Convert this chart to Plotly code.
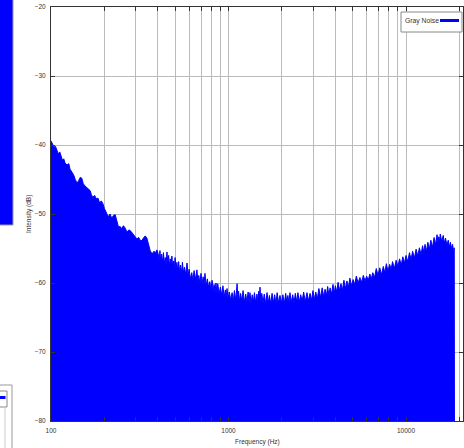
import plotly.graph_objects as go

# Gray noise spectrum: frequency (Hz) and measured intensity (dB)
freq_hz = [
    100, 102, 104, 106, 108, 110, 112, 114, 116, 118, 120, 123, 126, 128, 131, 134, 137, 140,
    143, 146, 149, 152, 155, 158, 162, 166, 169, 172, 176, 180, 184, 188, 192, 196, 200, 205,
    210, 215, 220, 225, 230, 235, 240, 245, 250, 256, 261, 268, 275, 282, 290, 298, 305, 312,
    320, 326, 333, 340, 347, 355, 362, 371, 380, 388, 395,
    403, 407, 411, 415, 420, 425, 430, 435, 440, 445, 450, 455, 460, 465, 470, 475, 480, 485,
    490, 495, 500, 506, 512, 518, 524, 530, 536, 543, 550, 557, 565, 574, 584, 592, 600, 610,
    621, 630, 640, 652, 664, 672, 680, 690, 700, 710, 720, 728, 737, 748, 760, 772, 785, 796,
    808, 819, 830, 840, 850, 860, 870, 885, 900, 915, 930, 945, 960, 970, 981, 995,
    1010, 1029, 1048, 1064, 1080, 1099, 1118, 1129, 1140, 1155, 1170, 1189, 1208, 1229, 1250,
    1270, 1290, 1305, 1321, 1340, 1360, 1380, 1400, 1423, 1446, 1463, 1480, 1492, 1505, 1522,
    1540, 1565, 1590, 1619, 1648, 1674, 1700, 1730, 1760, 1790, 1820, 1850, 1880, 1915, 1950,
    1987, 2024, 2062, 2100, 2130, 2160, 2190, 2220, 2260, 2300, 2340, 2380, 2420, 2462, 2505,
    2550, 2600, 2650, 2708, 2767, 2823, 2880, 2936, 2992, 3046, 3100, 3165, 3230, 3300, 3372,
    3436, 3500, 3560, 3620, 3677, 3735, 3808, 3880, 3940, 4000, 4072, 4144, 4222, 4300, 4385,
    4470, 4558, 4647, 4738, 4830, 4932, 5034, 5142, 5250, 5375, 5500, 5625, 5750, 5875, 6000,
    6127, 6255, 6377, 6500, 6650, 6800, 6956, 7113, 7280, 7450, 7600, 7750, 7920, 8089, 8245,
    8400, 8600, 8800, 9000, 9199, 9400, 9600, 9800, 10000, 10230, 10460, 10680, 10900, 11150,
    11400, 11650, 11900, 12150, 12400, 12600, 12800, 13040, 13280, 13540, 13800, 14100, 14400,
    14680, 14960, 15130, 15300, 15450, 15600, 15900, 16200, 16450, 16700, 17000, 17300, 17550,
    17800, 18050, 18300, 18500, 18700, 18750,
]
intensity_db = [
    -39.4, -39.9, -40.3, -40.2, -40.8, -41.3, -41.0, -41.8, -42.2, -42.0, -42.6, -42.9, -42.7,
    -43.5, -43.9, -44.3, -45.0, -45.5, -45.2, -44.7, -44.8, -45.6, -45.9, -46.1, -46.3, -46.6,
    -47.2, -47.6, -47.3, -47.8, -47.7, -48.4, -48.1, -48.5, -49.2, -49.9, -50.4, -50.0, -50.6,
    -50.2, -50.1, -51.0, -51.9, -51.8, -52.1, -51.7, -52.0, -52.6, -52.3, -52.5, -53.0, -53.3,
    -53.6, -53.4, -53.9, -53.8, -53.4, -53.2, -53.5, -54.4, -55.3, -55.8, -55.4, -55.6, -55.2,
    -55.9, -56.8, -55.3, -56.9, -55.8, -57.0, -55.6, -57.2, -56.3, -57.4, -55.5, -57.1, -56.0,
    -57.6, -56.5, -57.3, -56.1, -57.8, -56.8, -57.9, -56.3, -58.0, -57.0, -58.3, -56.9, -58.4,
    -57.4, -58.6, -57.0, -58.5, -57.7, -58.8, -57.1, -59.0, -58.0, -59.4, -58.5, -59.6, -58.2,
    -59.5, -58.1, -59.8, -58.9, -60.0, -58.6, -60.1, -59.1, -60.3, -58.6, -60.4, -59.4, -60.6,
    -59.8, -61.0, -59.6, -61.1, -60.2, -61.3, -60.0, -61.4, -60.1, -61.6, -60.6, -61.8, -60.4,
    -62.0, -61.0, -62.2, -60.8, -62.3,
    -61.3, -62.4, -61.4, -62.6, -61.1, -62.5, -60.1, -62.4, -61.2, -62.7, -61.5, -62.6, -61.1,
    -62.8, -61.6, -62.7, -61.3, -62.8, -61.4, -62.9, -61.7, -62.8, -61.4, -62.9, -61.6, -62.7,
    -61.2, -62.6, -60.6, -62.8, -61.5, -62.9, -61.6, -63.0, -61.4, -62.9, -61.8, -63.0, -61.5,
    -62.9, -61.7, -63.0, -61.4, -62.9, -61.8, -62.9, -61.7, -63.0, -61.5, -62.8, -61.8, -62.9,
    -61.4, -62.8, -61.7, -62.9, -61.5, -62.7, -61.4, -62.8, -61.7, -62.6, -61.3, -62.7, -61.4,
    -62.6, -61.5, -62.5, -61.1, -62.4, -61.3, -62.3, -60.8, -62.1, -60.7, -62.0, -60.9, -61.9,
    -60.5, -61.8, -60.7, -61.6, -60.2, -61.5, -60.4, -61.3, -59.9, -61.1, -60.1, -61.0, -59.6,
    -60.8, -59.7, -60.6, -59.3, -60.4, -59.5, -60.2, -59.0, -60.0, -59.2, -59.9, -58.9, -59.7,
    -59.0, -59.6, -58.7, -59.4, -58.5, -59.2, -57.9, -58.9, -57.8, -58.8, -57.6, -58.5, -57.2,
    -58.3, -57.3, -58.0, -56.9, -57.9, -56.7, -57.6, -56.5, -57.4, -56.2, -57.1, -56.0, -56.9,
    -55.6, -56.6, -55.4, -56.4, -55.1, -56.1, -54.9, -55.9, -54.6, -55.6, -54.4, -55.4, -54.1,
    -55.1, -53.8, -54.8, -53.4, -54.4, -53.0, -54.2, -53.3, -54.0, -52.9, -54.0, -53.1, -54.2,
    -53.5, -54.5, -53.8, -54.8, -54.1, -55.0, -54.4, -55.3, -54.9, -80.0,
]
assert len(freq_hz) == len(intensity_db)
floor_db = -80

x_tickvals = [100, 200, 300, 400, 500, 600, 700, 800, 900,
              1000, 2000, 3000, 4000, 5000, 6000, 7000, 8000, 9000,
              10000, 20000]
x_ticktext = ["100", "", "", "", "", "", "", "", "",
              "1000", "", "", "", "", "", "", "", "",
              "10000", ""]
y_tickvals = [-80, -70, -60, -50, -40, -30, -20]

series_name = "Gray Noise"
BLUE = "#0000ff"
FONT = "Liberation Sans, Arial, sans-serif"

# plot-area geometry in pixels (used only for converting decorations to paper coords)
W, H = 464, 448
L, R, T, B = 51, 1, 7, 27
PW, PH = W - L - R, H - T - B


def px(x):
    return (x - L) / PW


def py(y):
    return (H - B - y) / PH


fig = go.Figure()
fig.add_trace(go.Scatter(
    x=[freq_hz[0], freq_hz[-1]], y=[floor_db, floor_db],
    mode="lines", line=dict(width=0, color=BLUE),
    showlegend=False, hoverinfo="skip",
))
fig.add_trace(go.Scatter(
    x=freq_hz, y=intensity_db, name=series_name,
    mode="lines", line=dict(width=1, color=BLUE),
    fill="tonexty", fillcolor=BLUE, showlegend=False,
))

axis_common = dict(
    showline=True, linecolor="#333333", linewidth=1, mirror="ticks",
    ticks="inside", ticklen=4, tickcolor="#333333", tickwidth=1,
    showgrid=True, gridcolor="#bbbbbb", gridwidth=1, zeroline=False,
    tickfont=dict(family=FONT, size=6.5, color="#333333"),
)

fig.update_xaxes(
    type="log", range=[2, 2 + PW / 177.5],
    tickmode="array", tickvals=x_tickvals, ticktext=x_ticktext,
    ticklabelstandoff=3, **axis_common,
)
fig.update_yaxes(
    range=[-80, -20], tickmode="array", tickvals=y_tickvals,
    ticklabelstandoff=3, **axis_common,
)

shapes = [
    # key box
    dict(type="rect", xref="paper", yref="paper",
         x0=px(401), x1=px(462), y0=py(32), y1=py(12),
         fillcolor="white", line=dict(color="#888888", width=1), layer="above"),
    dict(type="line", xref="paper", yref="paper",
         x0=px(440), x1=px(459), y0=py(20.5), y1=py(20.5),
         line=dict(color=BLUE, width=3), layer="above"),
    # neighbouring panel on the left edge
    dict(type="rect", xref="paper", yref="paper",
         x0=px(-2), x1=px(13), y0=py(225), y1=py(-2),
         fillcolor=BLUE, line=dict(color="#999999", width=1), layer="above"),
    dict(type="line", xref="paper", yref="paper",
         x0=px(-2), x1=px(12), y0=py(385), y1=py(385),
         line=dict(color="#999999", width=1), layer="above"),
    dict(type="line", xref="paper", yref="paper",
         x0=px(12), x1=px(12), y0=py(385), y1=py(450),
         line=dict(color="#999999", width=1), layer="above"),
    dict(type="rect", xref="paper", yref="paper",
         x0=px(-2), x1=px(7), y0=py(407), y1=py(391),
         fillcolor="white", line=dict(color="#888888", width=1), layer="above"),
    dict(type="line", xref="paper", yref="paper",
         x0=px(-2), x1=px(5.5), y0=py(397.5), y1=py(397.5),
         line=dict(color=BLUE, width=3), layer="above"),
    dict(type="line", xref="paper", yref="paper",
         x0=px(5), x1=px(5), y0=py(407), y1=py(450),
         line=dict(color="#cccccc", width=1), layer="above"),
]

annotations = [
    dict(text=series_name, xref="paper", yref="paper", x=px(403), y=py(21),
         xanchor="left", yanchor="middle", showarrow=False,
         font=dict(family=FONT, size=6.8, color="#333333")),
    dict(text="Frequency (Hz)", xref="paper", yref="paper", x=0.5, y=py(442),
         xanchor="center", yanchor="middle", showarrow=False,
         font=dict(family=FONT, size=6.5, color="#333333")),
    dict(text="Intensity (dB)", xref="paper", yref="paper", x=px(29), y=0.5,
         xanchor="center", yanchor="middle", showarrow=False, textangle=-90,
         font=dict(family=FONT, size=6.5, color="#333333")),
]

fig.update_layout(
    width=W, height=H,
    margin=dict(l=L, r=R, t=T, b=B, pad=0),
    paper_bgcolor="white", plot_bgcolor="white",
    shapes=shapes, annotations=annotations,
    showlegend=False,
)

fig.write_html("out.html")
